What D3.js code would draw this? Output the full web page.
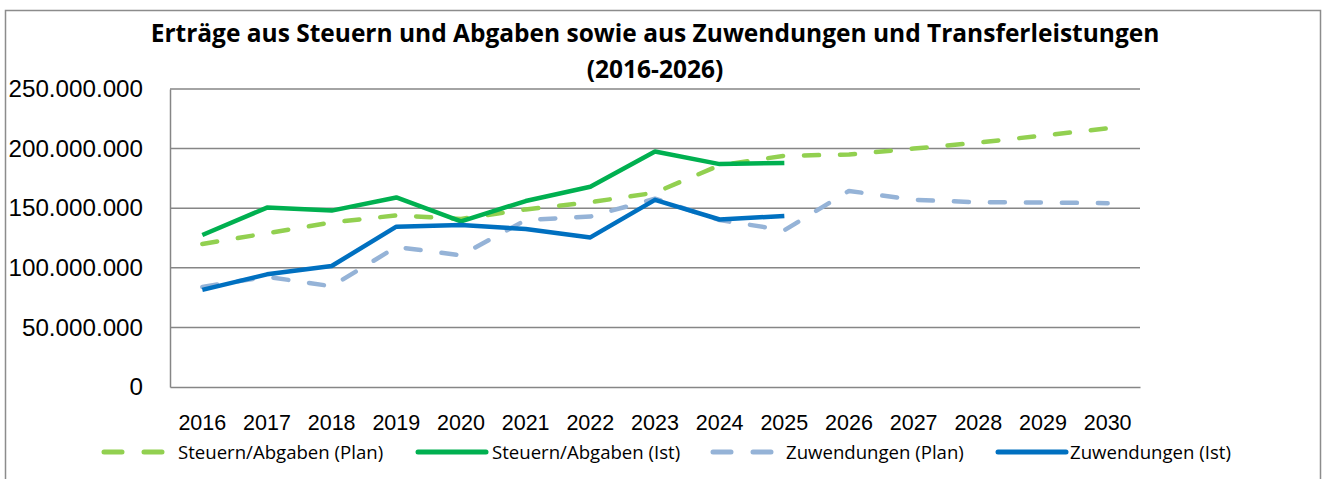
<!DOCTYPE html>
<html>
<head>
<meta charset="utf-8">
<script src="https://cdn.jsdelivr.net/npm/d3@7"></script>
<style>
  body { margin: 0; background: #fff; }
  svg { display: block; font-family: "Open Sans", Lato, sans-serif; }
</style>
</head>
<body>
<svg id="chart" width="1326" height="479"></svg>
<script>
const years = ["2016","2017","2018","2019","2020","2021","2022","2023","2024","2025","2026","2027","2028","2029","2030"];
const steuernPlan = [120e6,129e6,138e6,144e6,141e6,149e6,155e6,163e6,186e6,194e6,195e6,200e6,205e6,211e6,217e6];
const steuernIst = [127.5e6,150.5e6,148e6,159e6,139e6,156e6,168e6,197.5e6,187e6,188e6];
const zuwPlan = [84e6,92.5e6,84.5e6,117.5e6,110.5e6,140e6,143e6,158e6,140e6,131.5e6,164.5e6,157e6,155e6,154.8e6,154.2e6];
const zuwIst = [81.5e6,94.5e6,101.5e6,134.5e6,136e6,132.5e6,125.5e6,157e6,140.5e6,143.5e6];
const yTicks = [0,50e6,100e6,150e6,200e6,250e6];

const series = [
  {name: "Steuern/Abgaben (Plan)", values: steuernPlan, color: "#92d050", dash: true},
  {name: "Steuern/Abgaben (Ist)", values: steuernIst, color: "#00b050", dash: false},
  {name: "Zuwendungen (Plan)", values: zuwPlan, color: "#95b3d7", dash: true},
  {name: "Zuwendungen (Ist)", values: zuwIst, color: "#0070c0", dash: false}
];

const de = d3.formatLocale({decimal: ",", thousands: ".", grouping: [3], currency: ["", " €"]});
const fmt = de.format(",d");

const svg = d3.select("#chart");

// outer frame
svg.append("path")
  .attr("d", "M5.5,479 V10.5 H1320.5 V479")
  .attr("fill", "none")
  .attr("stroke", "#8c8c8c")
  .attr("stroke-width", 1.5);

const x = d3.scaleBand().domain(years).range([170, 1140]);
const y = d3.scaleLinear().domain([0, 250e6]).range([387, 89]);

// title
const title = svg.append("text")
  .attr("text-anchor", "middle")
  .attr("font-weight", "bold")
  .attr("font-size", 24.5)
  .attr("fill", "#000");
title.append("tspan").attr("x", 655).attr("y", 42)
  .text("Erträge aus Steuern und Abgaben sowie aus Zuwendungen und Transferleistungen");
title.append("tspan").attr("x", 655).attr("y", 78).text("(2016-2026)");

// gridlines
svg.append("g")
  .selectAll("line")
  .data(yTicks.filter(d => d > 0))
  .join("line")
  .attr("x1", 170).attr("x2", 1140)
  .attr("y1", d => y(d)).attr("y2", d => y(d))
  .attr("stroke", "#868686")
  .attr("stroke-width", 1.5);

// y axis
const yAxis = svg.append("g")
  .attr("transform", "translate(170,0)")
  .call(d3.axisLeft(y).tickValues(yTicks).tickFormat(fmt).tickSize(0).tickPadding(27));
yAxis.select(".domain").attr("stroke", "#868686").attr("stroke-width", 1.5);
yAxis.selectAll("text").attr("font-size", 24.2).attr("font-family", null).attr("fill", "#000");

// x axis
const xAxis = svg.append("g")
  .attr("transform", "translate(0,387)")
  .call(d3.axisBottom(x).tickSize(0).tickPadding(28));
xAxis.select(".domain").attr("stroke", "#868686").attr("stroke-width", 1.5);
xAxis.selectAll("text").attr("font-size", 21.5).attr("font-family", null).attr("fill", "#000");

// lines
const line = d3.line()
  .x((d, i) => x(years[i]) + x.bandwidth() / 2)
  .y(d => y(d));

svg.append("g")
  .selectAll("path")
  .data(series)
  .join("path")
  .attr("d", d => line(d.values))
  .attr("fill", "none")
  .attr("stroke", d => d.color)
  .attr("stroke-width", 4.5)
  .attr("stroke-linejoin", "round")
  .attr("stroke-linecap", d => d.dash ? "round" : "butt")
  .attr("stroke-dasharray", d => d.dash ? "15,21" : null);

// legend
const legendPos = [
  {lx: 102, tx: 178},
  {lx: 418, tx: 492},
  {lx: 711, tx: 786},
  {lx: 998, tx: 1070}
];
const legend = svg.append("g")
  .selectAll("g")
  .data(series)
  .join("g");
legend.append("line")
  .attr("x1", (d, i) => legendPos[i].lx + (d.dash ? 2 : 0))
  .attr("x2", (d, i) => legendPos[i].lx + 68)
  .attr("y1", 452).attr("y2", 452)
  .attr("stroke", d => d.color)
  .attr("stroke-width", 5)
  .attr("stroke-linecap", "round")
  .attr("stroke-dasharray", d => d.dash ? "18,22" : null);
legend.append("text")
  .attr("x", (d, i) => legendPos[i].tx)
  .attr("y", 458.5)
  .attr("font-size", 18.6)
  .attr("fill", "#000")
  .text(d => d.name);
</script>
</body>
</html>
